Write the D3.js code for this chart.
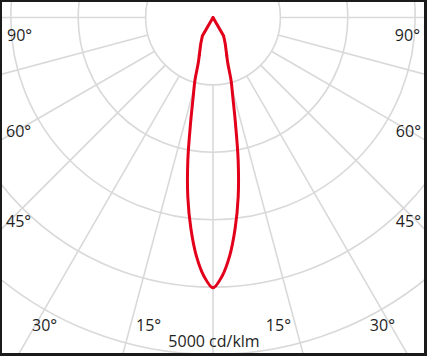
<!DOCTYPE html>
<html>
<head>
<meta charset="utf-8">
<script src="https://cdn.jsdelivr.net/npm/d3@7"></script>
<style>
  body { margin: 0; background: #fff; }
  svg { display: block; }
  text { font-family: "Open Sans", "Noto Sans", sans-serif; font-size: 16px; fill: #1e1e1e; }
</style>
</head>
<body>
<div id="chart"></div>
<script>
// luminous intensity (cd/klm) against gamma angle, symmetric about nadir
const gammaDeg = [0, 2, 4, 6, 8, 10, 12, 14, 16, 18, 20, 25, 30, 35, 40, 45, 50, 55, 60, 65, 70, 75, 80, 85, 90];
const intensity = [4010, 3840, 3545, 3145, 2685, 2150, 1600, 1215, 975, 707, 595, 430, 315, 0, 0, 0, 0, 0, 0, 0, 0, 0, 0, 0, 0];

const ringValues = [1000, 2000, 3000, 4000, 5000];
const rayAngles = [-90, -75, -60, -45, -30, -15, 0, 15, 30, 45, 60, 75, 90];
const angleLabels = [90, 60, 45, 30, 15];
const scaleLabel = '5000 cd/klm';

const width = 427;
const height = 356;
const cx = 213;
const cy = 17.5;
const rad = Math.PI / 180;

const r = d3.scaleLinear().domain([0, 5000]).range([0, 337]);

// gamma 0 points straight down, positive angles to the right
const px = (g, v) => cx + r(v) * Math.sin(g * rad);
const py = (g, v) => cy + r(v) * Math.cos(g * rad);

const svg = d3.select('#chart')
    .append('svg')
    .attr('width', width)
    .attr('height', height);

svg.append('rect')
    .attr('width', width)
    .attr('height', height)
    .attr('fill', '#fff');

const grid = svg.append('g')
    .attr('fill', 'none')
    .attr('stroke', '#d9d9d9')
    .attr('stroke-width', 1.6);

grid.selectAll('circle')
    .data(ringValues)
    .enter()
    .append('circle')
    .attr('cx', cx)
    .attr('cy', cy)
    .attr('r', d => r(d));

grid.selectAll('line')
    .data(rayAngles)
    .enter()
    .append('line')
    .attr('x1', d => px(d, ringValues[0]))
    .attr('y1', d => py(d, ringValues[0]))
    .attr('x2', d => px(d, 12000))
    .attr('y2', d => py(d, 12000));

// mirror the half curve to get the full C0-C180 plane
const half = gammaDeg.map((g, i) => ({ g: g, v: intensity[i] }));
const full = half.slice(1).reverse().map(d => ({ g: -d.g, v: d.v })).concat(half);

// smooth body near nadir, straight segments out to the tip
const bodyLimit = 20;
const body = full.filter(d => Math.abs(d.g) <= bodyLimit);
const tipRight = half.filter(d => d.g >= bodyLimit && (d.v > 0 || d.g === gammaDeg.find((g, i) => i > 0 && intensity[i] === 0)));
const tipLeft = tipRight.map(d => ({ g: -d.g, v: d.v }));

const smooth = d3.lineRadial()
    .angle(d => Math.PI - d.g * rad)
    .radius(d => r(d.v))
    .curve(d3.curveCatmullRom.alpha(0.5));

const straight = d3.lineRadial()
    .angle(d => Math.PI - d.g * rad)
    .radius(d => r(d.v))
    .curve(d3.curveLinear);

const curve = svg.append('g')
    .attr('transform', `translate(${cx},${cy})`)
    .attr('fill', 'none')
    .attr('stroke', '#e2001a')
    .attr('stroke-width', 3)
    .attr('stroke-linecap', 'round')
    .attr('stroke-linejoin', 'miter');

curve.append('path').datum(body).attr('d', smooth);
curve.append('path').datum(tipRight).attr('d', straight);
curve.append('path').datum(tipLeft).attr('d', straight);

// angle labels: side ones hug the frame, low ones sit along the bottom
const labelBaseline = { 90: 41, 60: 137, 45: 227, 30: 331, 15: 331 };
const labelInset = { 90: 7, 60: 6, 45: 6, 30: 32, 15: 136 };

const labels = svg.append('g');
angleLabels.forEach(a => {
    labels.append('text')
        .attr('x', labelInset[a])
        .attr('y', labelBaseline[a])
        .attr('text-anchor', 'start')
        .text(a + '°');
    labels.append('text')
        .attr('x', width - labelInset[a])
        .attr('y', labelBaseline[a])
        .attr('text-anchor', 'end')
        .text(a + '°');
});

labels.append('text')
    .attr('x', cx + 1)
    .attr('y', 347)
    .attr('text-anchor', 'middle')
    .text(scaleLabel);

// dark frame round the picture
svg.append('path')
    .attr('d', `M0,0H${width}V${height}H0Z M2,2V353H424V2Z`)
    .attr('fill', '#1b1b1b')
    .attr('fill-rule', 'evenodd');
</script>
</body>
</html>
